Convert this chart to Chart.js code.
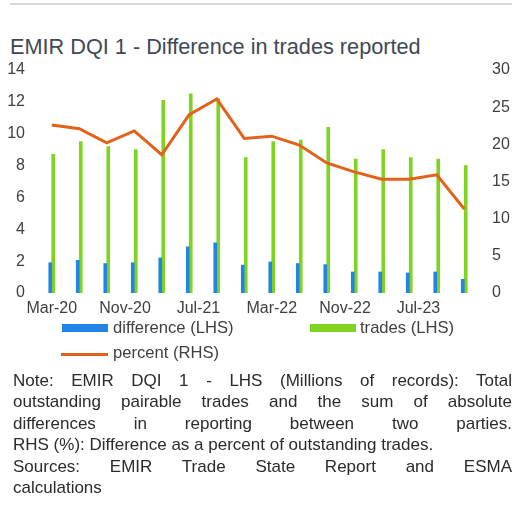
<!DOCTYPE html>
<html>
<head>
<meta charset="utf-8">
<script src="https://cdn.jsdelivr.net/npm/chart.js@4"></script>
<style>
  body { margin: 0; width: 515px; height: 506px; background: #fff; position: relative; overflow: hidden;
         font-family: "Liberation Sans", Arial, sans-serif; }
  #rule { position: absolute; left: 10px; top: 3px; width: 502px; height: 2px; background: #d9d9d9; }
  #title { position: absolute; left: 10px; top: 36px; font-size: 21.7px; line-height: 21.5px; color: #404856; white-space: nowrap; }
  #wrap { position: absolute; left: 0; top: 60px; width: 515px; height: 260px; }
  .leg { position: absolute; font-size: 16.6px; line-height: 20px; color: #404040; white-space: nowrap; }
  .sw { position: absolute; }
  #note { position: absolute; left: 13px; top: 370px; width: 499px; font-size: 17px; line-height: 21.4px; color: #2b2b2b; }
  #note div { text-align: justify; text-align-last: justify; white-space: nowrap; }
  #note div.last { text-align-last: left; }
</style>
</head>
<body>
<div id="rule"></div>
<div id="title">EMIR DQI 1 - Difference in trades reported</div>
<div id="wrap"><canvas id="chart" width="515" height="260"></canvas></div>

<div class="sw" style="left:62px;top:324px;width:46px;height:8px;background:#1f84e6"></div>
<div class="leg" style="left:113px;top:318px">difference (LHS)</div>
<div class="sw" style="left:310px;top:324px;width:46px;height:8px;background:#7fd321"></div>
<div class="leg" style="left:360px;top:318px">trades (LHS)</div>
<div class="sw" style="left:61px;top:353px;width:47px;height:3px;background:#e2621c"></div>
<div class="leg" style="left:113px;top:343px">percent (RHS)</div>

<div id="note">
  <div>Note: EMIR DQI 1 - LHS (Millions of records): Total</div>
  <div>outstanding pairable trades and the sum of absolute</div>
  <div>differences in reporting between two parties.</div>
  <div class="last">RHS (%): Difference as a percent of outstanding trades.</div>
  <div>Sources: EMIR Trade State Report and ESMA</div>
  <div class="last">calculations</div>
</div>

<script>
// quarterly observations
const periods = ['Mar-20', 'Jun-20', 'Sep-20', 'Dec-20', 'Mar-21', 'Jun-21', 'Sep-21', 'Dec-21',
  'Mar-22', 'Jun-22', 'Sep-22', 'Dec-22', 'Mar-23', 'Jun-23', 'Sep-23', 'Dec-23'];
const difference = [1.9, 2.05, 1.85, 1.9, 2.2, 2.9, 3.15, 1.75, 1.95, 1.85, 1.78, 1.32, 1.32, 1.26, 1.32, 0.86];
const trades = [8.7, 9.5, 9.2, 9.0, 12.1, 12.5, 12.2, 8.5, 9.5, 9.6, 10.4, 8.4, 9.0, 8.5, 8.4, 8.0];
const percent = [22.6, 22.1, 20.2, 21.8, 18.6, 24.0, 26.1, 20.8, 21.1, 19.9, 17.5, 16.3, 15.3, 15.3, 15.9, 11.3];

// date axis labels (every 8 months)
const tickLabels = ['Mar-20', 'Nov-20', 'Jul-21', 'Mar-22', 'Nov-22', 'Jul-23'];
const leftTicks = [0, 2, 4, 6, 8, 10, 12, 14];
const rightTicks = [0, 5, 10, 15, 20, 25, 30];

const MONTHS = ['Jan', 'Feb', 'Mar', 'Apr', 'May', 'Jun', 'Jul', 'Aug', 'Sep', 'Oct', 'Nov', 'Dec'];

// months since Mar-20
const monthOf = (label) => {
  const [m, y] = label.split('-');
  return (Number(y) - 20) * 12 + MONTHS.indexOf(m) - 2;
};

const xs = periods.map(monthOf);
const points = (values) => values.map((v, i) => ({ x: xs[i], y: v }));

const tickFont = { family: '"Liberation Sans", Arial, sans-serif', size: 16 };

// fixed axis widths, no label overhang padding
const fixWidth = (w) => (scale) => {
  scale.width = w;
  scale.paddingTop = 0;
  scale.paddingBottom = 0;
};

new Chart(document.getElementById('chart'), {
  type: 'bar',
  data: {
    datasets: [
      {
        type: 'line',
        label: 'percent (RHS)',
        data: points(percent),
        yAxisID: 'y1',
        borderColor: '#e2621c',
        borderWidth: 3,
        pointRadius: 0,
        tension: 0
      },
      {
        label: 'difference (LHS)',
        data: points(difference),
        yAxisID: 'y',
        backgroundColor: '#1f84e6',
        barThickness: 3
      },
      {
        label: 'trades (LHS)',
        data: points(trades),
        yAxisID: 'y',
        backgroundColor: '#7fd321',
        barThickness: 3
      }
    ]
  },
  options: {
    responsive: false,
    animation: false,
    layout: { padding: { top: 10, left: 0, right: 0, bottom: 0 } },
    plugins: { legend: { display: false }, tooltip: { enabled: false } },
    scales: {
      x: {
        type: 'linear',
        offset: false,
        min: -1.5,
        max: 46.5,
        grid: { display: false, offset: false },
        border: { display: false },
        afterBuildTicks: (scale) => {
          scale.ticks = tickLabels.map(l => ({ value: monthOf(l) }));
        },
        afterFit: (scale) => {
          scale.height = 27;
          scale.paddingLeft = 0;
          scale.paddingRight = 0;
        },
        ticks: {
          padding: -2,
          maxRotation: 0,
          autoSkip: false,
          color: '#404040',
          font: tickFont,
          callback: (v) => tickLabels.find(l => monthOf(l) === v) || ''
        }
      },
      y: {
        position: 'left',
        min: 0,
        max: 14,
        grid: { display: false },
        border: { display: false },
        afterBuildTicks: (scale) => { scale.ticks = leftTicks.map(v => ({ value: v })); },
        afterFit: fixWidth(38),
        ticks: { padding: 5, color: '#404040', font: tickFont }
      },
      y1: {
        position: 'right',
        min: 0,
        max: 30,
        grid: { display: false },
        border: { display: false },
        afterBuildTicks: (scale) => { scale.ticks = rightTicks.map(v => ({ value: v })); },
        afterFit: fixWidth(37),
        ticks: { padding: 6, color: '#404040', font: tickFont }
      }
    }
  }
});
</script>
</body>
</html>
